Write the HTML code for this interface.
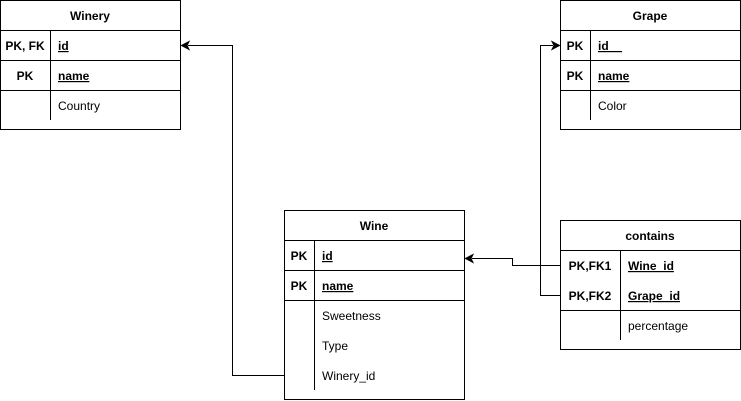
<!DOCTYPE html>
<html><head><style>
html,body{margin:0;padding:0;background:#fff;}
svg{display:block;}
text{font-family:"Liberation Sans",Arial,sans-serif;font-size:12px;fill:#000;}
.b{font-weight:bold;}
</style></head><body>
<svg width="741" height="401" viewBox="0 0 741 401" xmlns="http://www.w3.org/2000/svg">
<g fill="none" stroke="#000" stroke-width="1">
<!-- Winery -->
<rect x="0.5" y="0.5" width="180" height="129"/>
<line x1="0.5" y1="30.5" x2="180.5" y2="30.5"/>
<line x1="0.5" y1="60.5" x2="180.5" y2="60.5"/>
<line x1="0.5" y1="90.5" x2="180.5" y2="90.5"/>
<line x1="50.5" y1="30.5" x2="50.5" y2="120"/>
<!-- Grape -->
<rect x="560.5" y="0.5" width="180" height="129"/>
<line x1="560.5" y1="30.5" x2="740.5" y2="30.5"/>
<line x1="560.5" y1="60.5" x2="740.5" y2="60.5"/>
<line x1="560.5" y1="90.5" x2="740.5" y2="90.5"/>
<line x1="590.5" y1="30.5" x2="590.5" y2="120"/>
<!-- Wine -->
<rect x="284.5" y="210.5" width="180" height="189"/>
<line x1="284.5" y1="240.5" x2="464.5" y2="240.5"/>
<line x1="284.5" y1="270.5" x2="464.5" y2="270.5"/>
<line x1="284.5" y1="300.5" x2="464.5" y2="300.5"/>
<line x1="314.5" y1="240.5" x2="314.5" y2="390"/>
<!-- contains -->
<rect x="560.5" y="220.5" width="180" height="129"/>
<line x1="560.5" y1="250.5" x2="740.5" y2="250.5"/>
<line x1="560.5" y1="310.5" x2="740.5" y2="310.5"/>
<line x1="620.5" y1="250.5" x2="620.5" y2="340"/>
<!-- connectors -->
<polyline points="284.5,375.5 232.5,375.5 232.5,45.5 188,45.5"/>
<polyline points="560.5,265.5 512.5,265.5 512.5,258.5 472,258.5"/>
<polyline points="560.5,295.5 540.5,295.5 540.5,45.5 553,45.5"/>
</g>
<g fill="#000" stroke="#000">
<path d="M181.5,45.5 L189,41.5 L187,45.5 L189,49.5 Z"/>
<path d="M465.5,258.5 L473,254.5 L471,258.5 L473,262.5 Z"/>
<path d="M559.5,45.5 L552,41.5 L554,45.5 L552,49.5 Z"/>
</g>
<!-- Winery text -->
<text x="90" y="20" text-anchor="middle" class="b">Winery</text>
<text x="25" y="50" text-anchor="middle" class="b">PK, FK</text>
<text x="58" y="50" class="b" text-decoration="underline">id</text>
<text x="25" y="80" text-anchor="middle" class="b">PK</text>
<text x="58" y="80" class="b" text-decoration="underline">name</text>
<text x="58" y="110">Country</text>
<!-- Grape text -->
<text x="650" y="20" text-anchor="middle" class="b">Grape</text>
<text x="575" y="50" text-anchor="middle" class="b">PK</text>
<text x="598" y="50" class="b" text-decoration="underline" xml:space="preserve">id    </text>
<text x="575" y="80" text-anchor="middle" class="b">PK</text>
<text x="598" y="80" class="b" text-decoration="underline">name</text>
<text x="598" y="110">Color</text>
<!-- Wine text -->
<text x="374" y="230" text-anchor="middle" class="b">Wine</text>
<text x="299" y="260" text-anchor="middle" class="b">PK</text>
<text x="322" y="260" class="b" text-decoration="underline">id</text>
<text x="299" y="290" text-anchor="middle" class="b">PK</text>
<text x="322" y="290" class="b" text-decoration="underline">name</text>
<text x="322" y="320">Sweetness</text>
<text x="322" y="350">Type</text>
<text x="322" y="380">Winery_id</text>
<!-- contains text -->
<text x="650" y="240" text-anchor="middle" class="b">contains</text>
<text x="590" y="270" text-anchor="middle" class="b">PK,FK1</text>
<text x="628" y="270" class="b" text-decoration="underline">Wine_id</text>
<text x="590" y="300" text-anchor="middle" class="b">PK,FK2</text>
<text x="628" y="300" class="b" text-decoration="underline">Grape_id</text>
<text x="628" y="330">percentage</text>
</svg>
</body></html>
